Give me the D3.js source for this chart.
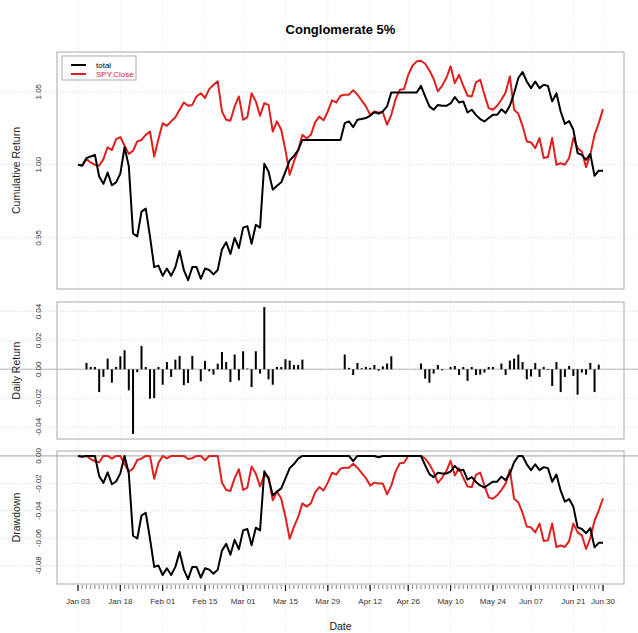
<!DOCTYPE html>
<html>
<head>
<meta charset="utf-8">
<script src="https://cdn.jsdelivr.net/npm/d3@7"></script>
<style>
  body { margin: 0; background: #fff; }
  svg { font-family: "Liberation Sans", Arial, sans-serif; }
</style>
</head>
<body>
<div id="chart_box"></div>
<script>
// cumulative return of the portfolio, one value per trading day (Jan 03 .. Jun 30)
var totalCum = [1.000,0.9995,1.0046,1.0057,1.0068,0.992,0.987,0.9947,0.986,0.988,
  0.994,1.012,0.999,0.953,0.951,0.968,0.970,0.951,0.930,0.931,
  0.924,0.929,0.924,0.930,0.941,0.928,0.921,0.930,0.930,0.922,
  0.929,0.928,0.925,0.928,0.942,0.947,0.939,0.950,0.943,0.957,
  0.958,0.946,0.959,0.957,1.0007,0.9954,0.983,0.9856,0.988,0.9954,
  1.003,1.006,1.010,1.017,1.017,1.017,1.017,1.017,1.017,1.017,
  1.017,1.017,1.017,1.0285,1.0297,1.0258,1.0308,1.0313,1.032,1.0336,
  1.036,1.035,1.0365,1.040,1.0495,1.0495,1.0495,1.0495,1.0495,1.0495,
  1.0495,1.054,1.0468,1.040,1.0377,1.041,1.0404,1.0404,1.042,1.0463,
  1.0427,1.0434,1.0358,1.0377,1.034,1.0313,1.0297,1.032,1.0342,1.0342,
  1.038,1.0354,1.0404,1.049,1.0594,1.0635,1.057,1.0525,1.057,1.0525,
  1.0548,1.054,1.0434,1.049,1.0365,1.028,1.030,1.024,1.008,1.0068,
  1.0034,1.0075,0.9925,0.996,0.996];

// cumulative return of SPY.Close
var spyCum = [1.000,0.9993,1.0039,1.0016,1.000,0.9993,1.0039,1.012,1.010,1.0176,
  1.019,1.013,1.0075,1.0096,1.016,1.017,1.0205,1.0228,1.0057,1.0176,
  1.0285,1.0267,1.0297,1.0326,1.0377,1.0427,1.0404,1.041,1.0468,1.049,
  1.0457,1.0518,1.0548,1.0571,1.0365,1.0308,1.0301,1.040,1.0468,1.0308,
  1.0326,1.049,1.0434,1.0336,1.0422,1.041,1.0228,1.0297,1.024,1.010,
  0.9932,1.0023,1.010,1.0205,1.018,1.0205,1.029,1.0331,1.0304,1.0365,
  1.0441,1.0427,1.0473,1.048,1.048,1.051,1.048,1.0441,1.040,1.0342,
  1.0365,1.0358,1.0358,1.0274,1.0342,1.045,1.0514,1.0518,1.0616,1.0678,
  1.0708,1.0712,1.0692,1.0646,1.0587,1.0502,1.0541,1.0594,1.0674,1.0559,
  1.0616,1.0541,1.0473,1.0468,1.0564,1.0582,1.048,1.0388,1.0377,1.0404,
  1.0445,1.0495,1.0605,1.0377,1.0349,1.0267,1.016,1.0153,1.0114,1.0183,
  1.0046,1.0053,1.0183,1.000,1.0011,1.000,1.0046,1.0183,1.0114,1.0091,
  0.9984,1.0068,1.0205,1.0285,1.0381];

// daily return of the portfolio
var totalRet = [0,0,0.0044,0.0016,0.0016,-0.0158,-0.0053,0.0074,-0.0093,0.0016,
  0.009,0.0132,-0.0146,-0.0448,-0.002,0.0162,0.0016,-0.0204,-0.020,0.0016,
  -0.0107,0.005,-0.0053,0.0067,0.0093,-0.011,-0.0095,0.0093,0,-0.0083,
  0.0058,-0.0014,-0.0037,0.0039,0.012,0.005,-0.0088,0.0102,-0.0077,0.0125,
  0.0005,-0.0123,0.0125,-0.003,0.0431,-0.007,-0.0107,0.0016,0.0016,0.007,
  0.006,0.003,0.003,0.0067,0,0,0,0,0,0,
  0,0,0,0.0102,0.001,-0.004,0.0044,0.0007,0.0016,0.001,
  0.003,-0.001,0.002,0.004,0.009,0,0,0,0,0,
  0,0.004,-0.0065,-0.0093,-0.003,0.003,-0.0007,0,0.0016,0.0023,
  -0.004,0.0016,-0.008,0.0016,-0.004,-0.0037,-0.0023,0.0016,0.0016,0,
  0.004,-0.004,0.006,0.0074,0.0102,0.005,-0.007,-0.005,0.0044,-0.0053,
  0.0016,-0.0005,-0.0116,0.005,-0.0158,-0.0053,0.0023,-0.0046,-0.0176,-0.0023,
  -0.0037,0.0044,-0.0158,0.0032,0];

var seriesNames = ["total", "SPY.Close"];
var seriesColors = ["#000000", "#e0201e"];

// date labels on the x axis and the trading-day index they sit on
var tickLabels = ["Jan 03","Jan 18","Feb 01","Feb 15","Mar 01","Mar 15","Mar 29",
  "Apr 12","Apr 26","May 10","May 24","Jun 07","Jun 21","Jun 30"];
var tickIdx = [0,10,20,30,39,49,59,69,78,88,98,107,117,124];

var cumTicks = [0.95, 1.00, 1.05];
var retTicks = [-0.04, -0.02, 0.00, 0.02, 0.04];
var ddTicks = [-0.08, -0.06, -0.04, -0.02, 0.00];

// drawdown from the running peak, as the summary chart does
function drawdown(cum) {
  var peak = 1, out = [];
  cum.forEach(function (v) {
    peak = Math.max(peak, v);
    out.push(v / peak - 1);
  });
  return out;
}
var totalDD = drawdown(totalCum);
var spyDD = drawdown(spyCum);

var width = 638, height = 633;
var left = 57, right = 624;
var gridColor = "#d9d9d9", boxColor = "#aaaaaa";

var svg = d3.select("#chart_box").append("svg")
  .attr("width", width)
  .attr("height", height);

var n = totalCum.length;
var pad = (n - 1) * 0.04;
var x = d3.scaleLinear().domain([-pad, n - 1 + pad]).range([left, right]);

// R style range: data extent stretched by 4%
function rangeOf(arrays) {
  var all = [].concat.apply([], arrays);
  var e = d3.extent(all), p = (e[1] - e[0]) * 0.04;
  return [e[0] - p, e[1] + p];
}

// faint vertical dotted grid over the whole page
svg.append("g").selectAll("line")
  .data(tickIdx)
  .enter().append("line")
  .attr("x1", function (d) { return x(d); })
  .attr("x2", function (d) { return x(d); })
  .attr("y1", 0).attr("y2", height)
  .style("stroke", "#e6e6e6")
  .style("stroke-width", 1.2)
  .style("stroke-dasharray", "1,2");

svg.append("text")
  .attr("x", (left + right) / 2)
  .attr("y", 34)
  .attr("text-anchor", "middle")
  .style("font-size", "13px")
  .style("font-weight", "bold")
  .text("Conglomerate 5%");

function panel(top, bottom, domain, ticks, label, zeroLine) {
  var y = d3.scaleLinear().domain(domain).range([bottom, top]);
  var g = svg.append("g");

  g.selectAll(".hgrid")
    .data(ticks)
    .enter().append("line")
    .attr("x1", 0).attr("x2", width)
    .attr("y1", function (d) { return y(d); })
    .attr("y2", function (d) { return y(d); })
    .style("stroke", gridColor)
    .style("stroke-dasharray", "1,2");

  if (zeroLine) {
    g.append("line")
      .attr("x1", 0).attr("x2", width)
      .attr("y1", y(0)).attr("y2", y(0))
      .style("stroke", "#b8b8b8")
      .style("stroke-width", 1.2);
  }

  g.append("rect")
    .attr("x", left).attr("y", top)
    .attr("width", right - left).attr("height", bottom - top)
    .style("fill", "none")
    .style("stroke", boxColor);

  // y tick labels, rotated like R's default las=0
  g.selectAll(".ylab")
    .data(ticks)
    .enter().append("text")
    .attr("transform", function (d) { return "translate(41," + y(d) + ") rotate(-90)"; })
    .attr("text-anchor", "middle")
    .style("font-size", "8px")
    .style("fill", "#333")
    .text(function (d) { return d.toFixed(2); });

  g.append("text")
    .attr("transform", "translate(20," + (top + bottom) / 2 + ") rotate(-90)")
    .attr("text-anchor", "middle")
    .style("font-size", "10.5px")
    .style("fill", "#222")
    .text(label);

  return { g: g, y: y };
}

function drawLine(p, values, color) {
  var line = d3.line()
    .x(function (d, i) { return x(i); })
    .y(function (d) { return p.y(d); });
  p.g.append("path")
    .datum(values)
    .attr("d", line)
    .style("fill", "none")
    .style("stroke", color)
    .style("stroke-width", 2)
    .style("stroke-linejoin", "round");
}

// top: cumulative return
var p1 = panel(52, 289, rangeOf([totalCum, spyCum]), cumTicks, "Cumulative Return", false);
drawLine(p1, spyCum, seriesColors[1]);
drawLine(p1, totalCum, seriesColors[0]);

// legend
var leg = p1.g.append("g").attr("transform", "translate(62,56)");
leg.append("rect")
  .attr("width", 74).attr("height", 24)
  .style("fill", "#fff")
  .style("stroke", "#aaa");
seriesNames.forEach(function (name, i) {
  leg.append("line")
    .attr("x1", 9).attr("x2", 24)
    .attr("y1", 9 + i * 9).attr("y2", 9 + i * 9)
    .style("stroke", seriesColors[i])
    .style("stroke-width", 2);
  leg.append("text")
    .attr("x", 34).attr("y", 12 + i * 9)
    .style("font-size", "8px")
    .style("fill", seriesColors[i])
    .text(name);
});

// middle: daily return bars
var p2 = panel(302, 439, rangeOf([totalRet]), retTicks, "Daily Return", true);
p2.g.selectAll(".bar")
  .data(totalRet)
  .enter().append("line")
  .attr("x1", function (d, i) { return x(i); })
  .attr("x2", function (d, i) { return x(i); })
  .attr("y1", p2.y(0))
  .attr("y2", function (d) { return p2.y(d); })
  .style("stroke", "#000")
  .style("stroke-width", 2);

// bottom: drawdown
var p3 = panel(451, 584, rangeOf([totalDD, spyDD]), ddTicks, "Drawdown", true);
drawLine(p3, spyDD, seriesColors[1]);
drawLine(p3, totalDD, seriesColors[0]);

// x axis: a small tick per day, longer ones at labels
var axis = svg.append("g");
axis.selectAll(".minor")
  .data(d3.range(n))
  .enter().append("line")
  .attr("x1", function (d) { return x(d); })
  .attr("x2", function (d) { return x(d); })
  .attr("y1", 585).attr("y2", 589)
  .style("stroke", "#666")
  .style("stroke-width", 0.8);
axis.selectAll(".major")
  .data(tickIdx)
  .enter().append("line")
  .attr("x1", function (d) { return x(d); })
  .attr("x2", function (d) { return x(d); })
  .attr("y1", 585).attr("y2", 591)
  .style("stroke", "#222")
  .style("stroke-width", 1.2);
axis.selectAll(".xlab")
  .data(tickIdx)
  .enter().append("text")
  .attr("x", function (d) { return x(d); })
  .attr("y", 604)
  .attr("text-anchor", "middle")
  .style("font-size", "8px")
  .style("fill", "#333")
  .text(function (d, i) { return tickLabels[i]; });

svg.append("text")
  .attr("x", (left + right) / 2)
  .attr("y", 630)
  .attr("text-anchor", "middle")
  .style("font-size", "10.5px")
  .style("fill", "#222")
  .text("Date");
</script>
</body>
</html>
